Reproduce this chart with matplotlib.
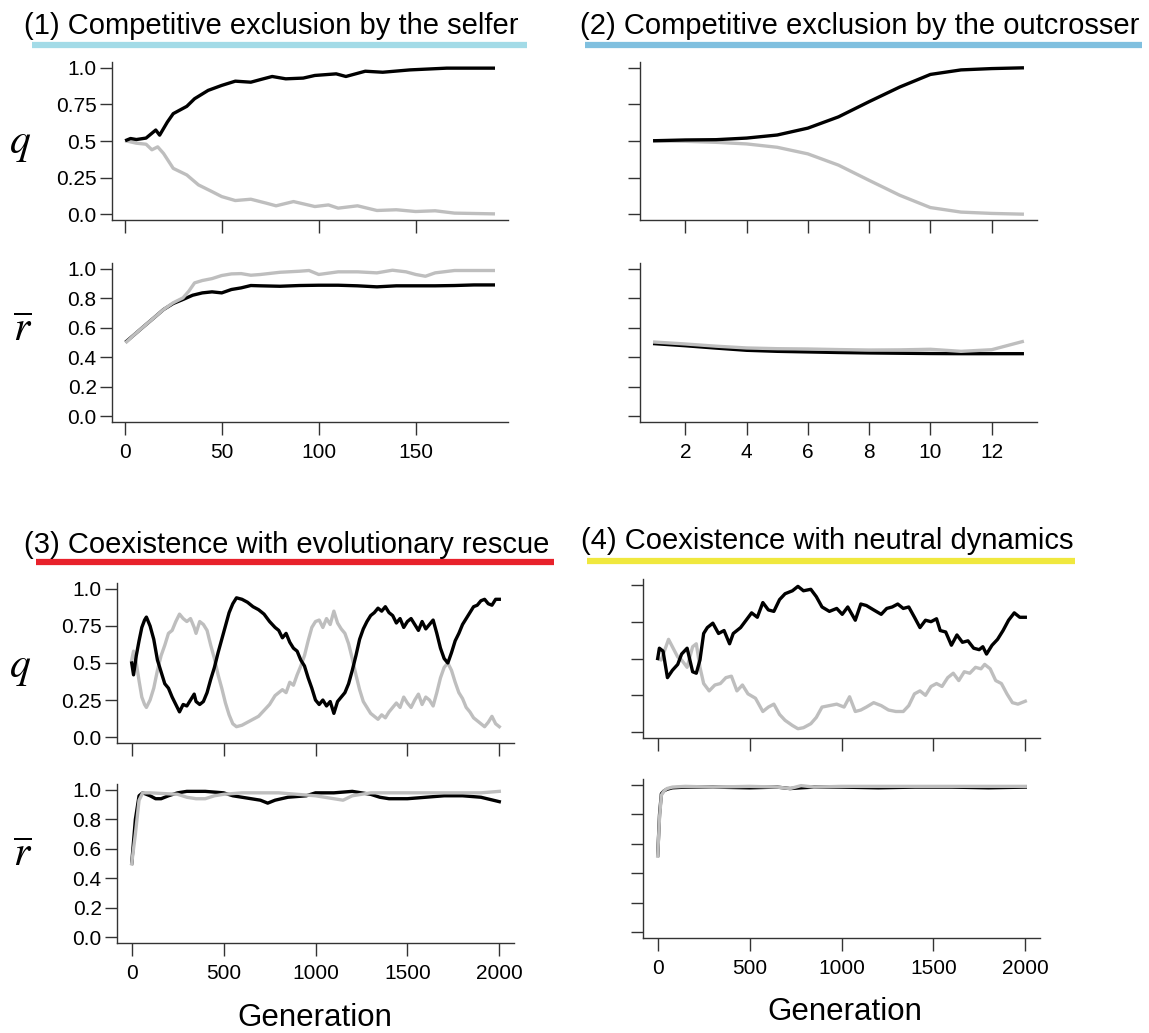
import matplotlib
matplotlib.use("Agg")
import matplotlib.pyplot as plt
from matplotlib.lines import Line2D

plt.rcParams['font.family'] = ['Liberation Sans', 'DejaVu Sans']
plt.rcParams['mathtext.fontset'] = 'stix'

W, H = 1149, 1033
BLACK = '#000000'
GREY = '#bebebe'
AXC = '#333333'

# ---- panel 1: exclusion by the selfer ----
p1_gen_qb = [1, 3, 6, 11, 16, 18, 22, 25, 32, 36, 43, 50, 57, 65, 70, 76, 83, 92, 98, 109, 114, 124, 133, 147, 166, 190]
p1_qb = [0.506, 0.517, 0.51, 0.52, 0.575, 0.54, 0.63, 0.687, 0.737, 0.789, 0.846, 0.88, 0.909, 0.902, 0.92,
         0.941, 0.925, 0.93, 0.948, 0.959, 0.941, 0.977, 0.97, 0.986, 0.998, 0.998]
p1_gen_qg = [1, 6, 11, 14, 17, 20, 25, 32, 38, 45, 50, 57, 65, 73, 78, 87, 98, 105, 110, 120, 130, 140, 150, 160, 170, 190]
p1_qg = [0.5, 0.485, 0.478, 0.44, 0.46, 0.415, 0.313, 0.268, 0.2, 0.154, 0.12, 0.093, 0.102, 0.075, 0.057,
         0.086, 0.052, 0.063, 0.041, 0.057, 0.025, 0.03, 0.018, 0.023, 0.007, 0.002]
p1_gen_rb = [1, 5, 10, 15, 20, 25, 30, 35, 40, 45, 50, 55, 60, 65, 70, 80, 90, 100, 110, 120, 130, 140, 150, 160, 170, 180, 190]
p1_rb = [0.509, 0.554, 0.611, 0.667, 0.724, 0.765, 0.792, 0.821, 0.837, 0.844, 0.837, 0.86, 0.871, 0.887, 0.885,
         0.882, 0.887, 0.889, 0.889, 0.885, 0.878, 0.885, 0.885, 0.885, 0.887, 0.891, 0.891]
p1_gen_rg = [1, 5, 10, 15, 20, 25, 30, 33, 36, 40, 45, 50, 55, 60, 65, 70, 80, 90, 95, 100, 110, 120, 130, 138, 145,
             150, 155, 160, 170, 190]
p1_rg = [0.505, 0.554, 0.611, 0.667, 0.724, 0.77, 0.803, 0.848, 0.905, 0.921, 0.934, 0.955, 0.966, 0.968, 0.957,
         0.962, 0.977, 0.984, 0.989, 0.962, 0.98, 0.98, 0.973, 0.991, 0.98, 0.962, 0.95, 0.973, 0.989, 0.989]

# ---- panel 2: exclusion by the outcrosser ----
p2_gen = [1, 2, 3, 4, 5, 6, 7, 8, 9, 10, 11, 12, 13]
p2_qb = [0.502, 0.507, 0.509, 0.52, 0.541, 0.588, 0.665, 0.769, 0.869, 0.955, 0.986, 0.995, 1.0]
p2_qg = [0.5, 0.498, 0.491, 0.48, 0.457, 0.412, 0.335, 0.231, 0.129, 0.045, 0.014, 0.005, 0.0]
p2_rb = [0.492, 0.478, 0.462, 0.447, 0.44, 0.436, 0.432, 0.429, 0.427, 0.425, 0.424, 0.424, 0.424]
p2_rg = [0.503, 0.49, 0.475, 0.463, 0.458, 0.456, 0.452, 0.449, 0.45, 0.454, 0.44, 0.451, 0.506]

# ---- panel 3: coexistence with evolutionary rescue ----
p3_gen_q = [0, 10, 25, 40, 55, 70, 80, 100, 120, 140, 160, 180, 200, 220, 240, 260, 280, 300, 320, 340, 350, 370,
            390, 410, 430, 450, 470, 490, 510, 530, 550, 570, 600, 630, 660, 690, 720, 750, 780, 800, 820, 840, 860,
            880, 900, 920, 940, 960, 980, 1000, 1020, 1040, 1060, 1080, 1100, 1120, 1140, 1160, 1180, 1200, 1220,
            1240, 1260, 1280, 1300, 1320, 1340, 1360, 1380, 1400, 1420, 1440, 1460, 1480, 1500, 1520, 1540, 1560,
            1580, 1600, 1620, 1640, 1660, 1680, 1700, 1720, 1740, 1760, 1780, 1800, 1820, 1840, 1860, 1880, 1900,
            1920, 1940, 1960, 1980, 2000]
p3_qb = [0.5, 0.42, 0.55, 0.65, 0.74, 0.79, 0.81, 0.75, 0.66, 0.52, 0.44, 0.36, 0.33, 0.27, 0.22, 0.17, 0.22,
         0.21, 0.25, 0.29, 0.24, 0.22, 0.24, 0.3, 0.39, 0.47, 0.57, 0.66, 0.75, 0.84, 0.9, 0.94, 0.93, 0.91, 0.88,
         0.86, 0.83, 0.78, 0.74, 0.72, 0.67, 0.7, 0.64, 0.6, 0.58, 0.52, 0.48, 0.4, 0.33, 0.25, 0.22, 0.25, 0.21,
         0.24, 0.16, 0.24, 0.27, 0.3, 0.36, 0.45, 0.55, 0.66, 0.73, 0.78, 0.82, 0.84, 0.87, 0.85, 0.88, 0.84, 0.82,
         0.77, 0.8, 0.74, 0.78, 0.8, 0.76, 0.72, 0.78, 0.73, 0.76, 0.79, 0.7, 0.6, 0.53, 0.5, 0.57, 0.65, 0.7, 0.76,
         0.8, 0.84, 0.88, 0.89, 0.92, 0.93, 0.9, 0.89, 0.93, 0.93]
p3_qg = [0.52, 0.58, 0.5, 0.38, 0.27, 0.22, 0.2, 0.25, 0.33, 0.45, 0.55, 0.62, 0.7, 0.72, 0.78, 0.83, 0.8, 0.78,
         0.8, 0.74, 0.7, 0.78, 0.76, 0.72, 0.62, 0.53, 0.42, 0.33, 0.23, 0.15, 0.09, 0.07, 0.08, 0.1, 0.12, 0.14,
         0.18, 0.22, 0.28, 0.3, 0.32, 0.3, 0.37, 0.35, 0.42, 0.48, 0.55, 0.65, 0.74, 0.78, 0.79, 0.74, 0.8, 0.76,
         0.85, 0.77, 0.73, 0.7, 0.63, 0.53, 0.42, 0.32, 0.24, 0.2, 0.16, 0.14, 0.12, 0.15, 0.13, 0.17, 0.2, 0.23,
         0.2, 0.27, 0.23, 0.2, 0.25, 0.29, 0.22, 0.27, 0.25, 0.21, 0.3, 0.4, 0.47, 0.5, 0.45, 0.37, 0.3, 0.26, 0.2,
         0.17, 0.13, 0.11, 0.09, 0.07, 0.1, 0.14, 0.09, 0.07]
p3_gen_rb = [0, 20, 40, 60, 100, 130, 160, 200, 250, 300, 400, 500, 550, 600, 700, 740, 780, 850, 950, 1000, 1100,
             1200, 1300, 1350, 1400, 1500, 1600, 1700, 1800, 1900, 2000]
p3_rb = [0.5, 0.8, 0.96, 0.98, 0.96, 0.94, 0.94, 0.96, 0.98, 0.99, 0.99, 0.98, 0.96, 0.95, 0.93, 0.91, 0.93, 0.95,
         0.96, 0.98, 0.98, 0.99, 0.97, 0.95, 0.94, 0.94, 0.95, 0.96, 0.96, 0.95, 0.92]
p3_gen_rg = [0, 20, 40, 60, 100, 250, 300, 350, 400, 450, 500, 600, 700, 800, 900, 1000, 1050, 1100, 1150, 1200,
             1300, 1400, 1500, 1600, 1700, 1800, 1900, 2000]
p3_rg = [0.5, 0.7, 0.93, 0.98, 0.98, 0.97, 0.95, 0.94, 0.94, 0.96, 0.97, 0.98, 0.98, 0.98, 0.97, 0.96, 0.95, 0.94,
         0.93, 0.96, 0.98, 0.98, 0.98, 0.98, 0.98, 0.98, 0.98, 0.99]

# ---- panel 4: coexistence with neutral dynamics ----
p4_gen_qb = [0, 9, 29, 53, 80, 109, 130, 160, 190, 210, 230, 250, 270, 300, 331, 361, 391, 411, 451, 481, 511, 542,
             572, 602, 632, 663, 693, 733, 763, 793, 833, 863, 894, 934, 974, 1004, 1034, 1075, 1105, 1135, 1175,
             1216, 1246, 1276, 1306, 1336, 1366, 1397, 1427, 1457, 1487, 1517, 1537, 1567, 1598, 1628, 1658, 1688,
             1719, 1749, 1769, 1789, 1819, 1849, 1879, 1909, 1940, 1970, 2000]
p4_qb = [0.5, 0.57, 0.55, 0.37, 0.42, 0.46, 0.53, 0.57, 0.41, 0.4, 0.49, 0.67, 0.71, 0.74, 0.67, 0.69, 0.6, 0.67,
         0.71, 0.76, 0.81, 0.78, 0.88, 0.83, 0.82, 0.9, 0.94, 0.96, 0.99, 0.96, 0.97, 0.92, 0.85, 0.82, 0.84, 0.8,
         0.85, 0.76, 0.87, 0.86, 0.83, 0.8, 0.84, 0.85, 0.87, 0.84, 0.85, 0.78, 0.71, 0.76, 0.75, 0.77, 0.69, 0.68,
         0.59, 0.66, 0.61, 0.62, 0.57, 0.56, 0.58, 0.53, 0.59, 0.63, 0.69, 0.76, 0.81, 0.78, 0.78]
p4_gen_qg = [0, 19, 59, 109, 130, 160, 190, 210, 230, 250, 280, 311, 341, 371, 401, 431, 461, 491, 532, 572, 602,
             632, 663, 693, 733, 763, 793, 833, 863, 894, 934, 974, 1014, 1044, 1075, 1105, 1135, 1175, 1216, 1256,
             1296, 1336, 1366, 1397, 1427, 1457, 1487, 1517, 1547, 1578, 1608, 1638, 1668, 1698, 1729, 1759, 1779,
             1809, 1839, 1870, 1900, 1930, 1960, 2000]
p4_qg = [0.5, 0.49, 0.63, 0.51, 0.49, 0.44, 0.58, 0.6, 0.44, 0.33, 0.28, 0.32, 0.33, 0.37, 0.38, 0.28, 0.32, 0.26,
         0.23, 0.14, 0.17, 0.19, 0.12, 0.08, 0.045, 0.023, 0.03, 0.057, 0.1, 0.17, 0.18, 0.19, 0.17, 0.24, 0.14,
         0.15, 0.17, 0.2, 0.18, 0.15, 0.14, 0.14, 0.18, 0.26, 0.28, 0.25, 0.31, 0.33, 0.31, 0.37, 0.4, 0.35, 0.41,
         0.4, 0.44, 0.43, 0.46, 0.43, 0.35, 0.33, 0.26, 0.2, 0.19, 0.21]
p4_gen_r = [0, 10, 20, 35, 50, 80, 150, 300, 500, 650, 720, 780, 850, 1000, 1200, 1400, 1600, 1800, 2000]
p4_rb = [0.52, 0.8, 0.94, 0.96, 0.97, 0.98, 0.985, 0.985, 0.98, 0.985, 0.975, 0.98, 0.985, 0.985, 0.98, 0.985,
         0.985, 0.98, 0.985]
p4_rg = [0.52, 0.78, 0.93, 0.96, 0.975, 0.985, 0.99, 0.985, 0.99, 0.985, 0.975, 0.995, 0.985, 0.99, 0.99, 0.99,
         0.99, 0.99, 0.99]

titles = ['(1) Competitive exclusion by the selfer',
          '(2) Competitive exclusion by the outcrosser',
          '(3) Coexistence with evolutionary rescue',
          '(4) Coexistence with neutral dynamics']
title_colors = ['#a3dbe7', '#80c0df', '#e8212b', '#f0e83e']


def rect(x0, x1, ytop, ybot):
    return [x0 / W, 1 - ybot / H, (x1 - x0) / W, (ybot - ytop) / H]


def r_style(ax, gens, xticks, ylab, xlab, yticks, yticklabels):
    lo, hi = min(gens), max(gens)
    pad = 0.04 * (hi - lo)
    ax.set_xlim(lo - pad, hi + pad)
    ax.set_ylim(-0.04, 1.04)
    for s in ['top', 'right']:
        ax.spines[s].set_visible(False)
    for s in ['left', 'bottom']:
        ax.spines[s].set_color(AXC)
        ax.spines[s].set_linewidth(1.0)
    ax.set_xticks(xticks)
    ax.set_yticks(yticks)
    ax.set_yticklabels(yticklabels)
    ax.tick_params(axis='both', direction='out', length=9, width=1.0, color=AXC, labelsize=15)
    ax.tick_params(axis='y', pad=2)
    ax.tick_params(axis='x', pad=6)
    ax.tick_params(labelleft=ylab, labelbottom=xlab)


fig = plt.figure(figsize=(W / 100, H / 100), dpi=100)

q_ticks = [0.0, 0.25, 0.5, 0.75, 1.0]
q_lab = ['0.0', '0.25', '0.5', '0.75', '1.0']
r_ticks = [0.0, 0.2, 0.4, 0.6, 0.8, 1.0]
r_lab = ['0.0', '0.2', '0.4', '0.6', '0.8', '1.0']
lw = 2.4

# panel 1
ax = fig.add_axes(rect(112, 508, 62, 220))
ax.plot(p1_gen_qg, p1_qg, color=GREY, lw=lw)
ax.plot(p1_gen_qb, p1_qb, color=BLACK, lw=lw)
r_style(ax, p1_gen_qb, [0, 50, 100, 150], True, False, q_ticks, q_lab)
ax = fig.add_axes(rect(112, 508, 263, 422))
ax.plot(p1_gen_rb, p1_rb, color=BLACK, lw=lw)
ax.plot(p1_gen_rg, p1_rg, color=GREY, lw=lw)
r_style(ax, p1_gen_rb, [0, 50, 100, 150], True, True, r_ticks, r_lab)

# panel 2
ax = fig.add_axes(rect(640, 1037, 62, 220))
ax.plot(p2_gen, p2_qg, color=GREY, lw=lw)
ax.plot(p2_gen, p2_qb, color=BLACK, lw=lw)
r_style(ax, p2_gen, [2, 4, 6, 8, 10, 12], False, False, q_ticks, q_lab)
ax = fig.add_axes(rect(640, 1037, 263, 422))
ax.plot(p2_gen, p2_rb, color=BLACK, lw=lw)
ax.plot(p2_gen, p2_rg, color=GREY, lw=lw)
r_style(ax, p2_gen, [2, 4, 6, 8, 10, 12], False, True, r_ticks, r_lab)

# panel 3
gticks = [0, 500, 1000, 1500, 2000]
ax = fig.add_axes(rect(117, 514, 583, 743))
ax.plot(p3_gen_q, p3_qg, color=GREY, lw=lw)
ax.plot(p3_gen_q, p3_qb, color=BLACK, lw=lw)
r_style(ax, p3_gen_q, gticks, True, False, q_ticks, q_lab)
ax = fig.add_axes(rect(117, 514, 784, 943))
ax.plot(p3_gen_rb, p3_rb, color=BLACK, lw=lw)
ax.plot(p3_gen_rg, p3_rg, color=GREY, lw=lw)
r_style(ax, p3_gen_rb, gticks, True, True, r_ticks, r_lab)

# panel 4
ax = fig.add_axes(rect(643, 1040, 579, 738))
ax.plot(p4_gen_qg, p4_qg, color=GREY, lw=lw)
ax.plot(p4_gen_qb, p4_qb, color=BLACK, lw=lw)
r_style(ax, p4_gen_qb, gticks, False, False, q_ticks, q_lab)
ax = fig.add_axes(rect(643, 1040, 779, 938))
ax.plot(p4_gen_r, p4_rb, color=BLACK, lw=lw)
ax.plot(p4_gen_r, p4_rg, color=GREY, lw=lw)
r_style(ax, p4_gen_r, gticks, False, True, r_ticks, r_lab)

# titles and coloured underlines
title_pos = [(271, 26), (860, 26), (287, 545), (827, 541)]
line_pos = [(32, 527, 45), (585, 1142, 45), (36, 554, 562), (587, 1075, 561)]
for t, c, (tx, ty), (lx0, lx1, ly) in zip(titles, title_colors, title_pos, line_pos):
    fig.text(tx / W, 1 - ty / H, t, ha='center', va='center', fontsize=21)
    fig.add_artist(Line2D([lx0 / W, lx1 / W], [1 - ly / H, 1 - ly / H], color=c, lw=4.5,
                          transform=fig.transFigure, solid_capstyle='butt'))

# axis labels
for (x, y, s) in [(20, 144, r'$q$'), (23, 330, r'$\overline{r}$'),
                  (20, 668, r'$q$'), (23, 855, r'$\overline{r}$')]:
    fig.text(x / W, 1 - y / H, s, ha='center', va='center', fontsize=30)
fig.text(315 / W, 1 - 1018 / H, 'Generation', ha='center', va='center', fontsize=22.5)
fig.text(845 / W, 1 - 1012 / H, 'Generation', ha='center', va='center', fontsize=22.5)

fig.savefig('out.png', dpi=100)
